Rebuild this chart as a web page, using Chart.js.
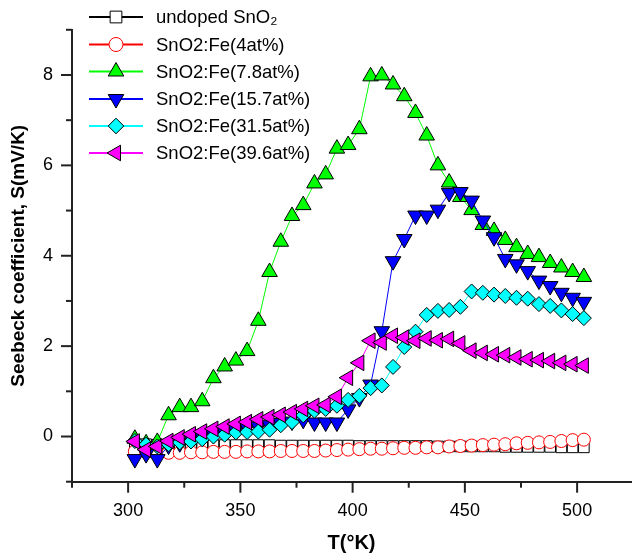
<!DOCTYPE html>
<html><head><meta charset="utf-8">
<script src="https://cdn.jsdelivr.net/npm/chart.js@4.4.1/dist/chart.umd.min.js"></script>
<style>html,body{margin:0;padding:0;background:#fff}#wrap{width:641px;height:555px;position:relative}canvas{display:block}</style>
</head><body><div id="wrap"><canvas id="c" width="641" height="555" style="width:641px;height:555px"></canvas></div>
<script>
// ---- data ----
const temps = [303,308,313,318,323,328,333,338,343,348,353,358,363,368,373,378,383,388,393,398,403,408,413,418,423,428,433,438,443,448,453,458,463,468,473,478,483,488,493,498,503];
const seriesLabels = ['undoped SnO\u2082','SnO2:Fe(4at%)','SnO2:Fe(7.8at%)','SnO2:Fe(15.7at%)','SnO2:Fe(31.5at%)','SnO2:Fe(39.6at%)'];
const undopedS = [-0.17,-0.17,-0.18,-0.18,-0.18,-0.18,-0.18,-0.19,-0.19,-0.19,-0.19,-0.19,-0.19,-0.2,-0.2,-0.2,-0.2,-0.2,-0.2,-0.2,-0.21,-0.21,-0.21,-0.21,-0.21,-0.21,-0.21,-0.22,-0.22,-0.22,-0.22,-0.22,-0.22,-0.23,-0.23,-0.23,-0.23,-0.23,-0.24,-0.24,-0.24];
const fe4S = [-0.33,-0.35,-0.36,-0.36,-0.36,-0.35,-0.35,-0.34,-0.34,-0.34,-0.33,-0.33,-0.33,-0.32,-0.32,-0.32,-0.32,-0.31,-0.3,-0.29,-0.28,-0.27,-0.27,-0.26,-0.25,-0.25,-0.24,-0.24,-0.22,-0.21,-0.2,-0.19,-0.18,-0.17,-0.15,-0.14,-0.13,-0.12,-0.1,-0.08,-0.07];
const fe78S = [-0.05,-0.15,-0.12,0.47,0.65,0.65,0.78,1.29,1.55,1.68,1.89,2.56,3.64,4.31,4.88,5.12,5.6,5.8,6.37,6.45,6.8,7.97,7.99,7.79,7.53,7.16,6.66,6.0,5.62,5.3,5.01,4.68,4.55,4.35,4.19,4.04,3.97,3.84,3.74,3.64,3.53];
const fe157S = [-0.5,-0.39,-0.5,-0.2,-0.15,-0.05,0.0,0.05,0.1,0.15,0.2,0.22,0.25,0.3,0.33,0.37,0.31,0.31,0.31,0.6,0.85,1.15,2.33,3.88,4.37,4.89,4.89,5.02,5.39,5.41,5.22,4.78,4.41,3.93,3.81,3.66,3.45,3.33,3.18,3.07,2.98];
const fe315S = [-0.1,-0.18,-0.22,-0.17,-0.13,-0.11,-0.06,0.0,0.04,0.09,0.1,0.11,0.15,0.25,0.32,0.47,0.57,0.61,0.68,0.81,0.9,1.07,1.13,1.54,1.98,2.32,2.69,2.78,2.8,2.87,3.21,3.18,3.14,3.11,3.07,3.05,2.93,2.89,2.79,2.71,2.62];
const fe396S = [-0.11,-0.29,-0.22,-0.1,-0.02,0.05,0.11,0.17,0.22,0.28,0.32,0.38,0.43,0.48,0.54,0.61,0.68,0.7,0.88,1.3,1.63,2.12,2.08,2.23,2.19,2.12,2.17,2.13,2.16,2.06,1.9,1.85,1.82,1.8,1.75,1.71,1.69,1.67,1.63,1.6,1.57];
const xMajorTicks = [300,350,400,450,500];
const xMinorTicks = [275,325,375,425,475];
const yMajorTicks = [0,2,4,6,8];
const yMinorTicks = [-1,1,3,5,7,9];

// ---- styles ----
const styles = [
  {line:'#000000', fill:'#ffffff', border:'#000000', shape:'rect', rot:0, r:7.5, lr:8.3},
  {line:'#ff0000', fill:'#ffffff', border:'#ff0000', shape:'circle', rot:0, r:6.5, lr:7},
  {line:'#00ff00', fill:'#00ff00', border:'#000000', shape:'triangle', rot:0, r:9, lr:9},
  {line:'#0000ff', fill:'#0000ff', border:'#000000', shape:'triangle', rot:180, r:9, lr:9},
  {line:'#00ffff', fill:'#00ffff', border:'#000000', shape:'rectRot', rot:0, r:7.5, lr:7.8},
  {line:'#ff00ff', fill:'#ff00ff', border:'#000000', shape:'triangle', rot:-90, r:9, lr:9}
];
const allS = [undopedS, fe4S, fe78S, fe157S, fe315S, fe396S];

const FONT = "'Liberation Sans', Arial, Helvetica, sans-serif";
Chart.defaults.font.family = FONT;
Chart.defaults.color = '#000';

const datasets = allS.map((vals, i) => ({
  label: seriesLabels[i],
  data: temps.map((t, k) => ({x: t, y: vals[k]})),
  borderColor: styles[i].line,
  borderWidth: 1,
  pointStyle: styles[i].shape,
  pointRotation: styles[i].rot,
  pointRadius: styles[i].r,
  pointBackgroundColor: styles[i].fill,
  pointBorderColor: styles[i].border,
  pointBorderWidth: 1,
  tension: 0,
  fill: false,
  order: 5 - i
}));

function drawMarker(ctx, st, x, y) {
  ctx.save();
  ctx.fillStyle = st.fill; ctx.strokeStyle = st.border; ctx.lineWidth = 1;
  if (Chart.helpers && Chart.helpers.drawPoint) {
    Chart.helpers.drawPoint(ctx, {pointStyle: st.shape, rotation: st.rot, radius: st.lr, borderWidth: 1}, x, y);
  }
  ctx.restore();
}

const axisPlugin = {
  id: 'axisTicks',
  afterDraw(chart) {
    const ctx = chart.ctx, xs = chart.scales.x, ys = chart.scales.y, a = chart.chartArea;
    ctx.save();
    ctx.strokeStyle = '#222'; ctx.lineWidth = 2;
    const seg = (x1, y1, x2, y2) => { ctx.beginPath(); ctx.moveTo(x1, y1); ctx.lineTo(x2, y2); ctx.stroke(); };
    xMajorTicks.forEach(v => { const p = xs.getPixelForValue(v); seg(p, a.bottom, p, a.bottom + 11); });
    xMinorTicks.forEach(v => { const p = xs.getPixelForValue(v); seg(p, a.bottom, p, a.bottom + 6); });
    yMajorTicks.forEach(v => { const p = ys.getPixelForValue(v); seg(a.left, p, a.left - 11, p); });
    yMinorTicks.forEach(v => { const p = ys.getPixelForValue(v); seg(a.left, p, a.left - 6, p); });
    ctx.restore();

    // legend
    const rows = [17, 44.5, 71.5, 99, 126, 153];
    ctx.save();
    ctx.font = '18.5px ' + FONT;
    ctx.textBaseline = 'middle';
    ctx.textAlign = 'left';
    chart.data.datasets.forEach((ds, i) => {
      const y = rows[i], st = styles[i];
      ctx.strokeStyle = st.line; ctx.lineWidth = 2;
      ctx.beginPath(); ctx.moveTo(89, y); ctx.lineTo(143, y); ctx.stroke();
      drawMarker(ctx, st, 116, y);
      ctx.fillStyle = '#000';
      ctx.fillText(ds.label, 156, y + 1);
    });
    ctx.restore();
  }
};

new Chart(document.getElementById('c'), {
  type: 'line',
  data: {datasets},
  options: {
    responsive: false,
    devicePixelRatio: 1,
    animation: false,
    events: [],
    layout: {padding: {top: 17.6, right: 0, bottom: 0, left: 0}},
    plugins: {legend: {display: false}, tooltip: {enabled: false}},
    scales: {
      x: {
        type: 'linear', min: 275, max: 524,
        grid: {display: false, drawTicks: false},
        border: {display: true, color: '#222', width: 2},
        afterBuildTicks: s => { s.ticks = xMajorTicks.map(v => ({value: v})); },
        afterFit: s => { s.height = 73.3; },
        ticks: {font: {size: 18}, padding: 18.5, maxRotation: 0, color: '#000'},
        title: {display: true, text: 'T(°K)', font: {size: 20, weight: 'bold'}, padding: {top: 0, bottom: 0}, color: '#000'}
      },
      y: {
        type: 'linear', min: -1, max: 9,
        grid: {display: false, drawTicks: false},
        border: {display: true, color: '#222', width: 2},
        afterBuildTicks: s => { s.ticks = yMajorTicks.map(v => ({value: v})); },
        afterFit: s => { s.width = 72; },
        ticks: {font: {size: 18}, padding: 19, color: '#000'},
        title: {display: true, text: 'Seebeck coefficient, S(mV/K)', font: {size: 19, weight: 'bold'}, padding: {top: 7, bottom: 0}, color: '#000'}
      }
    }
  },
  plugins: [axisPlugin]
});
</script>
</body></html>
